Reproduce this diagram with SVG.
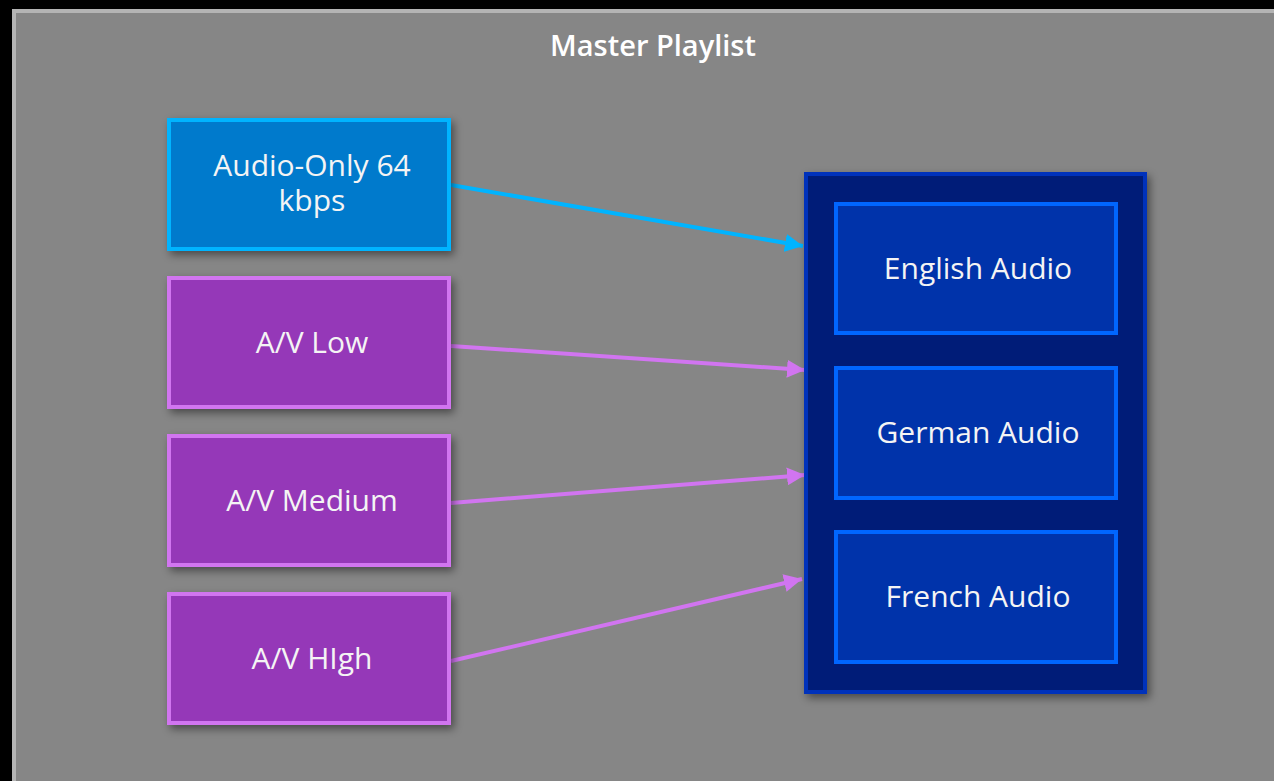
<svg xmlns="http://www.w3.org/2000/svg" width="1274" height="781" viewBox="0 0 1274 781">
<style>
.lbl{font-family:"Open Sans","Noto Sans","Liberation Sans",sans-serif;font-size:30px;fill:#F4F4F4;text-anchor:middle}
.title{font-family:"Open Sans","Noto Sans","Liberation Sans",sans-serif;font-size:29px;font-weight:600;fill:#FFFFFF;text-anchor:middle}
.pbox{fill:#9538B8;stroke:#D175F0;stroke-width:4}
.cbox{fill:#007ACC;stroke:#00B4FF;stroke-width:4}
.ibox{fill:#0033AA;stroke:#0066FF;stroke-width:4}
.cont{fill:#001F78;stroke:#0033BB;stroke-width:4}
.cl{stroke:#00B4FF;stroke-width:4;fill:none}
.pl{stroke:#D175F0;stroke-width:4;fill:none}
</style>
<defs>
<filter id="sh" x="-10%" y="-10%" width="130%" height="130%">
<feDropShadow dx="3" dy="4" stdDeviation="4" flood-color="#000" flood-opacity="0.45"/>
</filter>
<marker id="ac" markerUnits="userSpaceOnUse" markerWidth="20" markerHeight="18" refX="18" refY="9" orient="auto">
<path d="M0,0 L18,9 L0,18 Z" fill="#00B4FF"/>
</marker>
<marker id="ap" markerUnits="userSpaceOnUse" markerWidth="20" markerHeight="18" refX="18" refY="9" orient="auto">
<path d="M0,0 L18,9 L0,18 Z" fill="#D175F0"/>
</marker>
</defs>
<rect x="0" y="0" width="1274" height="781" fill="#000"/>
<rect x="14" y="11" width="1280" height="800" fill="#868686" stroke="#B4B4B4" stroke-width="4"/>
<text class="title" x="653" y="56">Master Playlist</text>

<g id="connectors">
<line class="cl" x1="451" y1="185" x2="803" y2="246" marker-end="url(#ac)"/>
<line class="pl" x1="451" y1="346" x2="805" y2="370" marker-end="url(#ap)"/>
<line class="pl" x1="451" y1="503" x2="805" y2="475" marker-end="url(#ap)"/>
<line class="pl" x1="451" y1="661" x2="802" y2="579" marker-end="url(#ap)"/>
</g>

<g id="audio-only">
<rect class="cbox" x="169" y="120" width="280" height="129" filter="url(#sh)"/>
<text class="lbl" x="312" y="176"><tspan x="312" y="176">Audio-Only 64</tspan><tspan x="312" y="211">kbps</tspan></text>
</g>
<g id="av-low">
<rect class="pbox" x="169" y="278" width="280" height="129" filter="url(#sh)"/>
<text class="lbl" x="312" y="353">A/V Low</text>
</g>
<g id="av-medium">
<rect class="pbox" x="169" y="436" width="280" height="129" filter="url(#sh)"/>
<text class="lbl" x="312" y="511">A/V Medium</text>
</g>
<g id="av-high">
<rect class="pbox" x="169" y="594" width="280" height="129" filter="url(#sh)"/>
<text class="lbl" x="312" y="669">A/V HIgh</text>
</g>

<g id="audio-group">
<rect class="cont" x="806" y="174" width="339" height="518" filter="url(#sh)"/>
</g>
<g id="english">
<rect class="ibox" x="836" y="204" width="280" height="129"/>
<text class="lbl" x="978" y="279">English Audio</text>
</g>
<g id="german">
<rect class="ibox" x="836" y="368" width="280" height="130"/>
<text class="lbl" x="978" y="443">German Audio</text>
</g>
<g id="french">
<rect class="ibox" x="836" y="532" width="280" height="130"/>
<text class="lbl" x="978" y="607">French Audio</text>
</g>
</svg>
